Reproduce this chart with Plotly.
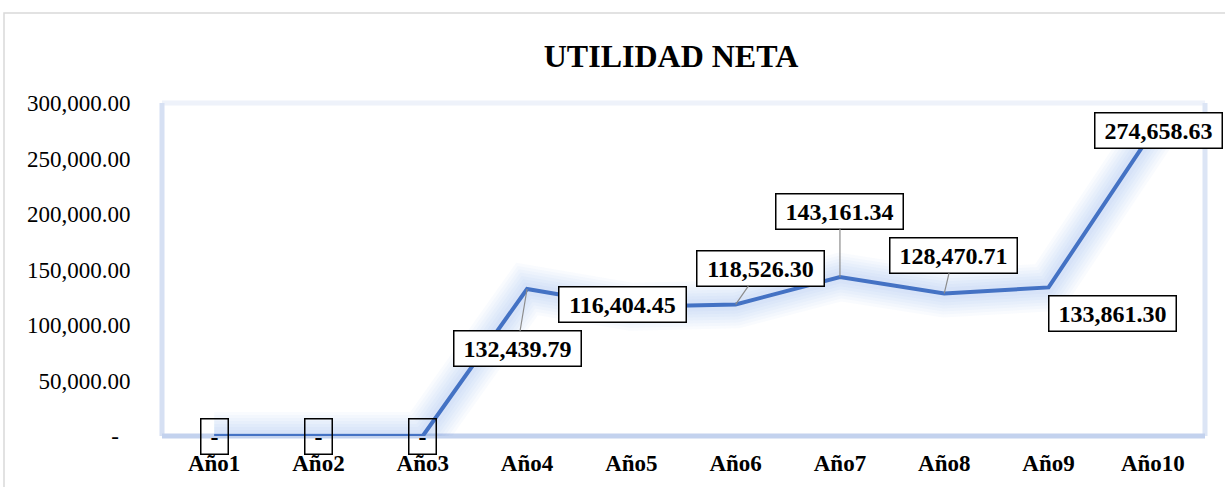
import plotly.graph_objects as go

# data
years = ['Año1', 'Año2', 'Año3', 'Año4', 'Año5', 'Año6', 'Año7', 'Año8', 'Año9', 'Año10']
utilidad = [0, 0, 0, 132439.79, 116404.45, 118526.30, 143161.34, 128470.71, 133861.30, 274658.63]
label_text = ['-', '-', '-', '132,439.79', '116,404.45', '118,526.30', '143,161.34',
              '128,470.71', '133,861.30', '274,658.63']
# label offsets from the point (px): (dx, dy, leader line?)
label_offsets = [(0, 0, False), (0, 0, False), (0, 0, False), (-10, 60, True), (-9, -2, False),
                 (25, -36, True), (0, -66, True), (9, -38, True), (64, 26, False), (6, -1, False)]

y_ticks = [0, 50000, 100000, 150000, 200000, 250000, 300000]
y_ticktext = ['-\u00a0\u00a0', '50,000.00', '100,000.00', '150,000.00', '200,000.00',
              '250,000.00', '300,000.00']

W, H = 1225, 487
L, R, T, B = 162, 20, 103, 51
PW, PH = W - L - R, H - T - B


def px(x):
    return (x - L) / PW


def py(y):
    return 1 - (y - T) / PH


FONT = 'Liberation Serif, Times New Roman, serif'
BLUE = '#4472C4'

fig = go.Figure()

# soft glow under the line
for w in [48, 42, 36, 30, 24, 18, 12]:
    fig.add_trace(go.Scatter(x=years, y=utilidad, mode='lines',
                             line=dict(color='rgba(90,140,220,0.035)', width=w),
                             hoverinfo='skip', showlegend=False))
fig.add_trace(go.Scatter(x=years, y=utilidad, mode='lines',
                         line=dict(color=BLUE, width=4), showlegend=False))

# data labels
for yr, val, txt, (dx, dy, lead) in zip(years, utilidad, label_text, label_offsets):
    box_w = 20 if txt == '-' else 120
    common = dict(x=yr, y=val, xref='x', yref='y', text=f'<b>{txt}</b>',
                  font=dict(family=FONT, size=24, color='black'),
                  bgcolor='white' if txt != '-' else 'rgba(0,0,0,0)',
                  bordercolor='black', borderwidth=1.5, borderpad=3,
                  width=box_w, height=28)
    if lead:
        fig.add_annotation(**common, showarrow=True, ax=dx, ay=dy, arrowhead=0,
                           arrowwidth=1.2, arrowcolor='#8C8C8C', standoff=0)
    else:
        fig.add_annotation(**common, showarrow=False, xshift=dx, yshift=-dy)

# plot area border (soft blue)
fig.add_shape(type='line', xref='paper', yref='paper', x0=0, x1=1, y0=1, y1=1,
              line=dict(color='#EEF2FA', width=5), layer='below')
fig.add_shape(type='line', xref='paper', yref='paper', x0=1, x1=1, y0=0, y1=1,
              line=dict(color='#DCE5F5', width=5), layer='below')
fig.add_shape(type='line', xref='paper', yref='paper', x0=0, x1=0, y0=0, y1=1,
              line=dict(color='#D6E0F3', width=5), layer='below')
fig.add_shape(type='line', xref='paper', yref='paper', x0=0, x1=1, y0=0, y1=0,
              line=dict(color='#C3D2EE', width=5), layer='below')

# outer chart border
fig.add_shape(type='rect', xref='paper', yref='paper', x0=px(4), x1=px(1240),
              y0=py(500), y1=py(13), line=dict(color='#D9D9D9', width=1.5))

fig.update_layout(
    width=W, height=H,
    margin=dict(l=L, r=R, t=T, b=B),
    paper_bgcolor='white', plot_bgcolor='white',
    title=dict(text='<b>UTILIDAD NETA</b>', x=671 / W, xanchor='center',
               y=1 - 56 / H, yanchor='middle', yref='container',
               font=dict(family=FONT, size=32, color='black')),
    showlegend=False,
    xaxis=dict(type='category', showgrid=False, zeroline=False, showline=False,
               automargin=False,
               ticks='outside', ticklen=6, tickcolor='rgba(0,0,0,0)',
               tickfont=dict(family=FONT, size=23, color='black'),
               tickvals=years, ticktext=[f'<b>{y}</b>' for y in years],
               range=[-0.5, 9.5]),
    yaxis=dict(range=[0, 300000], tickvals=y_ticks, ticktext=y_ticktext,
               showgrid=False, zeroline=False, showline=False, automargin=False,
               ticks='outside', ticklen=26, tickcolor='rgba(0,0,0,0)',
               tickfont=dict(family=FONT, size=23, color='black')),
)

# page body has a default 8px margin; drop it so the figure sits at the corner
fig.write_html('out.html', config={'displayModeBar': False},
               post_script="document.body.style.margin='0';")
